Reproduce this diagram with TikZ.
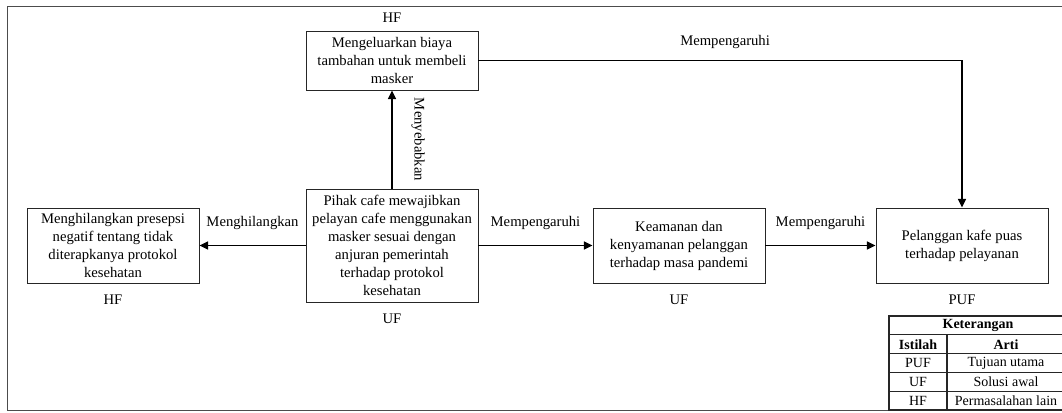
\documentclass[tikz,border=0pt]{standalone}
\usepackage{fontspec}
\setmainfont{Liberation Serif}
\usetikzlibrary{positioning,arrows.meta,calc}
\tikzset{
  box/.style={draw=black!85, line width=0.7pt, align=center, inner sep=2pt, minimum width=129pt, font=\fontsize{11}{13.5}\selectfont},
  tag/.style={inner sep=0pt, font=\fontsize{11}{13.5}\selectfont},
  lbl/.style={inner sep=0pt, font=\fontsize{11}{13.5}\selectfont},
  arr/.style={-{Triangle[length=6.5pt,width=6pt]}, line width=1.1pt},
  cell/.style={inner sep=0pt, font=\fontsize{10.5}{12}\selectfont},
  rule/.style={line width=0.9pt, black!85},
}

\begin{document}
\begin{tikzpicture}[x=0.75pt, y=-0.75pt]
  \useasboundingbox (0,0) rectangle (1062,412);
  % outer frame
  \draw[black!70, line width=0.6pt] (7,6) rectangle (1075,410);
  % factor boxes
  \node[box, minimum height=44.25pt] (biaya) at (392,60.5) {Mengeluarkan biaya\\tambahan untuk membeli\\masker};
  \node[box, minimum height=84.75pt] (pihak) at (392,245.5) {Pihak cafe mewajibkan\\pelayan cafe menggunakan\\masker sesuai dengan\\anjuran pemerintah\\terhadap protokol\\kesehatan};
  \node[box, minimum height=56.25pt] (persepsi) at (113,245.5) {Menghilangkan presepsi\\negatif tentang tidak\\diterapkanya protokol\\kesehatan};
  \node[box, minimum height=56.25pt] (aman) at (679,245.5) {Keamanan dan\\kenyamanan pelanggan\\terhadap masa pandemi};
  \node[box, minimum height=56.25pt] (puas) at (962,245.5) {Pelanggan kafe puas\\terhadap pelayanan};
  % tags
  \node[tag, above=5.5pt of biaya] (tagBiaya) {HF};
  \node[tag, below=8pt of pihak] (tagPihak) {UF};
  \node[tag, below=8pt of persepsi] (tagPersepsi) {HF};
  \node[tag, below=8pt of aman] (tagAman) {UF};
  \node[tag, below=8pt of puas] (tagPuas) {PUF};
  % connectors
  \draw[arr] (pihak) -- (persepsi) node[lbl, midway, above=11pt] {Menghilangkan};
  \draw[arr] (pihak) -- (aman) node[lbl, midway, above=11pt] {Mempengaruhi};
  \draw[arr] (aman) -- (puas) node[lbl, midway, above=11pt] {Mempengaruhi};
  \draw[arr] (pihak) -- (biaya);
  \node[lbl, rotate=-90] (lblSebab) at ($(pihak.north)!0.5!(biaya.south)+(19.5pt,0)$) {Menyebabkan};
  \draw[arr] (biaya.east) -| (puas.north) node[lbl, pos=0.255, above=8pt] {Mempengaruhi};
  % legend table
  \draw[rule] (889,316) rectangle (1072,410);
  \foreach \y in {334.8,353.6,372.4,391.2}{\draw[rule] (889,\y) -- (1072,\y);}
  \draw[rule] (947,334.8) -- (947,410);
  \node[cell, font=\fontsize{10.5}{12}\selectfont\bfseries] (ket) at (978,325.4) {Keterangan};
  \node[cell, font=\fontsize{10.5}{12}\selectfont\bfseries] (ist) at (918,344.2) {Istilah};
  \node[cell, font=\fontsize{10.5}{12}\selectfont\bfseries] (arti) at (1006,344.2) {Arti};
  \node[cell] (kPuf) at (918,363) {PUF};
  \node[cell] (vPuf) at (1006,363) {Tujuan utama};
  \node[cell] (kUf) at (918,381.8) {UF};
  \node[cell] (vUf) at (1006,381.8) {Solusi awal};
  \node[cell] (kHf) at (918,400.6) {HF};
  \node[cell] (vHf) at (1006,400.6) {Permasalahan lain};
\end{tikzpicture}
\end{document}
